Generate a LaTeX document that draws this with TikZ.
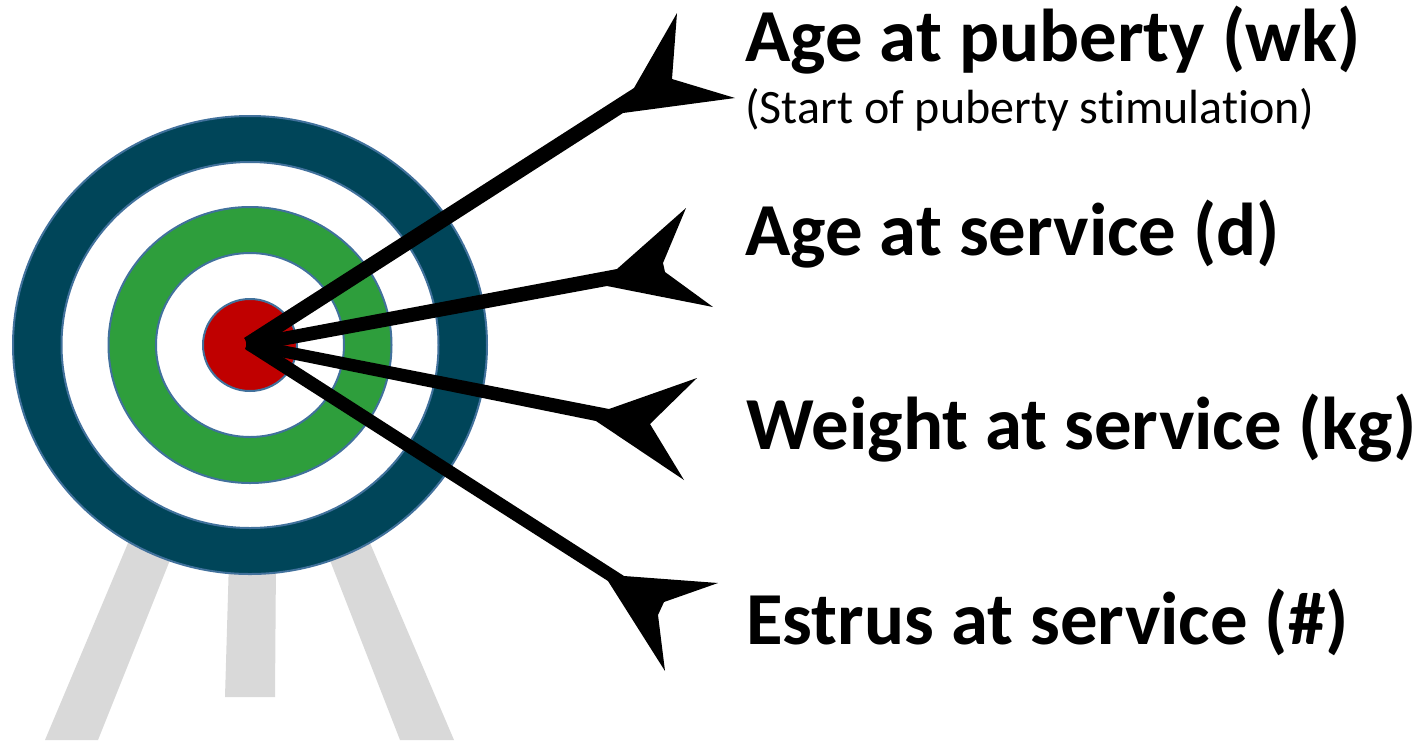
\documentclass[tikz,border=0pt]{standalone}
\usepackage{fontspec}
\setmainfont[Ligatures=NoCommon]{Carlito}
\definecolor{ringdark}{HTML}{004559}
\definecolor{ringgreen}{HTML}{2E9E3C}
\definecolor{ringred}{HTML}{C00000}
\definecolor{ringedge}{HTML}{41719C}
\definecolor{legcol}{HTML}{D9D9D9}
\tikzset{
  ring/.style={draw=ringedge,line width=1pt},
  leg/.style={fill=legcol,draw=none},
  arrowshape/.style={fill=black,draw=none},
  headline/.style={anchor=base west,inner sep=0pt,font=\fontsize{37.4}{44}\selectfont\bfseries},
  subline/.style={anchor=base west,inner sep=0pt,font=\fontsize{24}{29}\selectfont}
}
\begin{document}
\begin{tikzpicture}[x=0.5pt,y=-0.5pt]
\useasboundingbox (0,0) rectangle (1419,740);
% legs
\fill[leg] (128,543) -- (45,740) -- (98,740) -- (176,545) -- cycle;
\fill[leg] (229,560) -- (225,697) -- (275,697) -- (276,560) -- cycle;
\fill[leg] (370,543) -- (454,740) -- (400,740) -- (324,545) -- cycle;
% rings
\coordinate (c) at (250,345);
\path[ring,fill=ringdark] (c) ellipse [x radius=237,y radius=229];
\path[ring,fill=white] (c) ellipse [x radius=188.5,y radius=183];
\path[ring,fill=ringgreen] (c) ellipse [x radius=141.5,y radius=138];
\path[ring,fill=white] (c) ellipse [x radius=94,y radius=92];
\path[ring,fill=ringred] (c) ellipse [x radius=47,y radius=46];
% arrows
\fill[arrowshape] (244,338) -- (634,88) -- (677,13) -- (672,79) -- (735,98) -- (623,113) -- (254,350) -- cycle;
\fill[arrowshape] (245,339) -- (617,269) -- (686,208) -- (663,263) -- (665,272) -- (713,307) -- (607,286) -- (249,352) -- cycle;
\fill[arrowshape] (246,338) -- (609,409) -- (697,378) -- (650,424) -- (684,480) -- (596,421) -- (246,350) -- cycle;
\fill[arrowshape] (250,336) -- (624,576) -- (718,583) -- (664,602) -- (658,615) -- (665,671) -- (608,581) -- (245,349) -- cycle;
% labels
\node[headline] (t1) at (745,61) {Age at puberty (wk)};
\node[subline] (t1b) at (745,123.5) {(Start of puberty stimulation)};
\node[headline] (t2) at (745,255) {Age at service (d)};
\node[headline] (t3) at (746,449.5) {Weight at service (kg)};
\node[headline] (t4) at (746,644) {Estrus at service (\#)};
\end{tikzpicture}
\end{document}
